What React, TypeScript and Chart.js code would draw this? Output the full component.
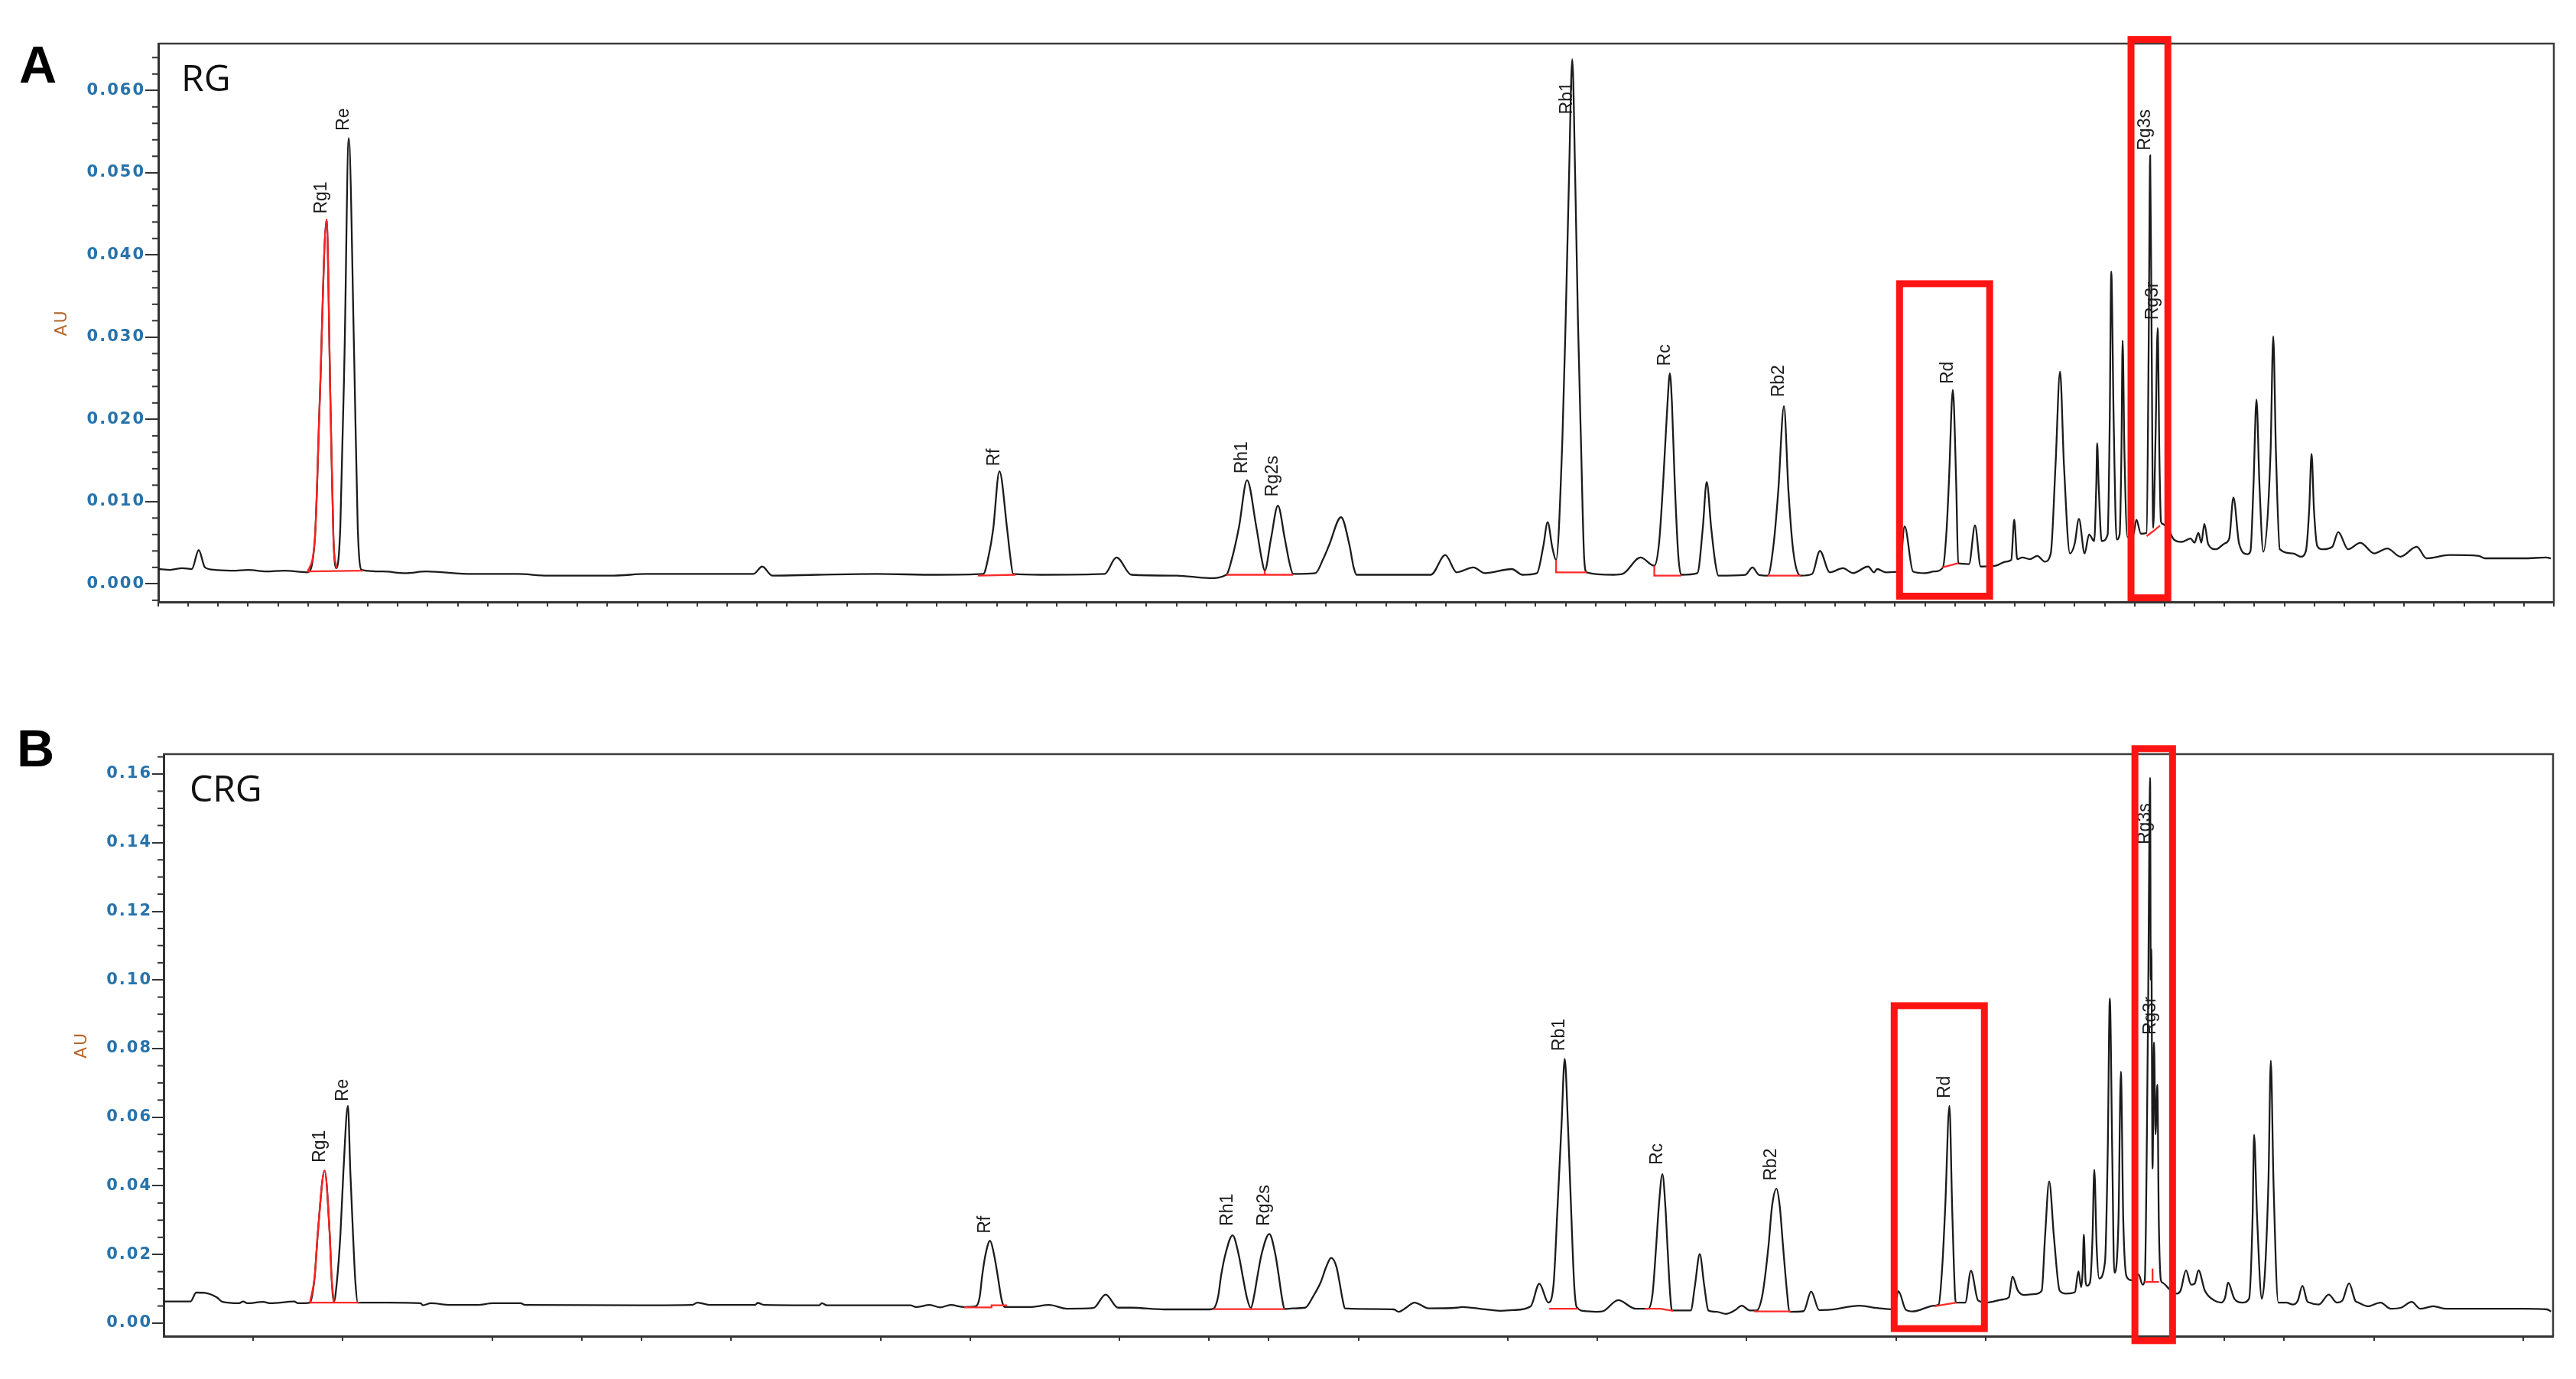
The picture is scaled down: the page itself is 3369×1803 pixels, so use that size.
import React, { useEffect, useRef } from "react";
import { Chart, registerables } from "chart.js";
Chart.register(...registerables);

// ---------------- Panel A (RG) ----------------
const traceA: [number, number][] = [
  [0, 0.0018], [0.4, 0.0017], [0.8, 0.0019], [1.12, 0.0018], [1.35, 0.0041], [1.56, 0.002],
  [1.9, 0.0017], [2.5, 0.0016], [3.0, 0.0017], [3.6, 0.0015], [4.2, 0.0016], [4.98, 0.0014],
  [5.23, 0.0055], [5.39, 0.022], [5.62, 0.0443], [5.75, 0.022], [5.85, 0.0055], [5.95, 0.0019],
  [6.08, 0.007], [6.22, 0.028], [6.36, 0.0542], [6.54, 0.028], [6.66, 0.007], [6.79, 0.0017],
  [7.5, 0.0015], [8.25, 0.0013], [8.94, 0.0015], [10.47, 0.0012], [12.0, 0.0012], [13.0, 0.001],
  [15.2, 0.001], [16.3, 0.0012], [18.0, 0.0012], [19.87, 0.0012], [20.17, 0.0021], [20.5, 0.001],
  [22.0, 0.0011], [24.0, 0.0012], [26.0, 0.0011], [27.55, 0.0012], [27.73, 0.0034], [27.88, 0.0066],
  [28.09, 0.0137], [28.35, 0.0066], [28.45, 0.0034], [28.55, 0.0012], [29.5, 0.0011], [31.6, 0.0012],
  [32.0, 0.0032], [32.5, 0.0011], [34.0, 0.001], [35.1, 0.0007], [35.67, 0.0011], [35.85, 0.003],
  [36.09, 0.0069], [36.36, 0.0126], [36.67, 0.0069], [36.85, 0.003], [36.95, 0.0016], [37.16, 0.0055],
  [37.39, 0.0095], [37.62, 0.0055], [37.78, 0.0025], [37.9, 0.0012], [38.64, 0.0013], [38.9, 0.003],
  [39.1, 0.0047], [39.5, 0.0081], [39.78, 0.0047], [39.92, 0.002], [40.02, 0.0011], [41.5, 0.0011],
  [42.5, 0.0011], [42.98, 0.0035], [43.36, 0.0014], [43.92, 0.002], [44.3, 0.0013], [45.2, 0.0018],
  [45.56, 0.0011], [46.04, 0.0013], [46.25, 0.0045], [46.4, 0.0075], [46.55, 0.0045], [46.68, 0.0029],
  [46.89, 0.0175], [47.0, 0.0321], [47.11, 0.0491], [47.22, 0.0638], [47.32, 0.0491], [47.41, 0.0321],
  [47.51, 0.0175], [47.62, 0.003], [47.7, 0.0014], [48.6, 0.0011], [48.9, 0.0012], [49.5, 0.0032],
  [49.96, 0.0022], [50.12, 0.005], [50.26, 0.0126], [50.4, 0.0219], [50.48, 0.0256], [50.55, 0.0219],
  [50.64, 0.0126], [50.76, 0.0035], [50.86, 0.0011], [51.4, 0.0013], [51.58, 0.0068], [51.71, 0.0124],
  [51.86, 0.0068], [52.0, 0.0025], [52.1, 0.001], [53.0, 0.0011], [53.24, 0.002], [53.45, 0.0011],
  [53.75, 0.001], [53.95, 0.005], [54.1, 0.0113], [54.29, 0.0216], [54.44, 0.0113], [54.6, 0.004],
  [54.85, 0.001], [55.23, 0.0012], [55.49, 0.004], [55.82, 0.0014], [56.26, 0.0019], [56.6, 0.0013],
  [57.1, 0.0021], [57.3, 0.0014], [57.4, 0.0018], [57.7, 0.0014], [58.15, 0.0015], [58.32, 0.007],
  [58.6, 0.0015], [58.99, 0.0013], [59.3, 0.0015], [59.6, 0.002], [59.72, 0.0065], [59.8, 0.0125],
  [59.93, 0.0236], [60.04, 0.0125], [60.11, 0.0025], [60.47, 0.0024], [60.67, 0.0071], [60.86, 0.0021],
  [61.36, 0.0022], [61.7, 0.0027], [61.88, 0.0029], [61.98, 0.0078], [62.08, 0.003], [62.25, 0.0032],
  [62.5, 0.003], [62.75, 0.0034], [63.0, 0.0027], [63.2, 0.0037], [63.36, 0.0145], [63.51, 0.0258],
  [63.64, 0.0145], [63.84, 0.0037], [64.0, 0.0049], [64.14, 0.0079], [64.33, 0.0037], [64.48, 0.006],
  [64.65, 0.0052], [64.72, 0.012], [64.75, 0.0171], [64.8, 0.012], [64.9, 0.0052], [65.1, 0.006],
  [65.17, 0.02], [65.22, 0.038], [65.3, 0.02], [65.4, 0.0054], [65.5, 0.006], [65.56, 0.016],
  [65.6, 0.0296], [65.66, 0.016], [65.76, 0.0057], [65.96, 0.006], [66.06, 0.0078], [66.21, 0.0061],
  [66.4, 0.0062], [66.47, 0.029], [66.52, 0.0521], [66.57, 0.029], [66.62, 0.0068], [66.7, 0.018],
  [66.77, 0.0311], [66.83, 0.015], [66.88, 0.0076], [66.93, 0.0073], [67.15, 0.0065], [67.31, 0.0054],
  [67.58, 0.0051], [67.87, 0.0055], [68.0, 0.005], [68.13, 0.0062], [68.23, 0.005], [68.33, 0.0073],
  [68.46, 0.0048], [68.72, 0.0042], [69.0, 0.0049], [69.16, 0.0055], [69.3, 0.0105], [69.49, 0.0049],
  [69.77, 0.0036], [69.87, 0.004], [69.97, 0.012], [70.07, 0.0224], [70.17, 0.012], [70.3, 0.0039],
  [70.54, 0.016], [70.63, 0.0301], [70.72, 0.016], [70.85, 0.0042], [71.29, 0.0037], [71.55, 0.0033],
  [71.72, 0.004], [71.83, 0.009], [71.91, 0.0158], [71.99, 0.009], [72.1, 0.0046], [72.27, 0.0042],
  [72.6, 0.0045], [72.8, 0.0063], [73.13, 0.0042], [73.54, 0.005], [74.0, 0.0037], [74.44, 0.0043],
  [74.88, 0.0033], [75.42, 0.0045], [75.75, 0.0031], [76.51, 0.0035], [77.5, 0.0034], [77.7, 0.0031],
  [78.98, 0.0031], [79.75, 0.0032], [79.9, 0.0031],
];
const rg1RangeA: [number, number] = [4.98, 5.95];
const baselinesA: [number, number][][] = [
  [[4.98, 0.0015], [6.84, 0.0016]],
  [[27.37, 0.001], [28.63, 0.0011]],
  [[35.67, 0.0011], [37.9, 0.0011]],
  [[36.95, 0.0011], [36.95, 0.0016]],
  [[46.68, 0.0029], [46.68, 0.0014], [47.7, 0.0014]],
  [[49.96, 0.0022], [49.96, 0.001], [50.86, 0.001]],
  [[53.75, 0.001], [54.85, 0.001]],
  [[59.58, 0.002], [60.11, 0.0025]],
  [[66.4, 0.0058], [66.62, 0.0064], [66.85, 0.0071]],
];
const peakLabelsA: [string, number, number][] = [
  ["Rg1", 5.62, 0.045], ["Re", 6.36, 0.0551], ["Rf", 28.09, 0.0143], ["Rh1", 36.36, 0.0134],
  ["Rg2s", 37.39, 0.0106], ["Rb1", 47.22, 0.0571], ["Rc", 50.48, 0.0265], ["Rb2", 54.29, 0.0227],
  ["Rd", 59.93, 0.0243], ["Rg3s", 66.52, 0.0527], ["Rg3r", 66.77, 0.0321],
];
const boxesA: [number, number, number, number][] = [
  [58.15, 61.16, -0.0015, 0.0365],
  [65.88, 67.11, -0.0017, 0.0662],
];
const yMajorA = [0, 0.01, 0.02, 0.03, 0.04, 0.05, 0.06];
const yMinorA = [
  -0.002, 0.002, 0.004, 0.006, 0.008, 0.012, 0.014, 0.016, 0.018, 0.022, 0.024, 0.026, 0.028,
  0.032, 0.034, 0.036, 0.038, 0.042, 0.044, 0.046, 0.048, 0.052, 0.054, 0.056, 0.058, 0.062, 0.064,
];

// ---------------- Panel B (CRG) ----------------
const traceB: [number, number][] = [
  [0, 0.0063], [0.9, 0.0063], [1.09, 0.0089], [1.38, 0.0088], [1.78, 0.0075], [1.97, 0.0062],
  [2.53, 0.0058], [2.66, 0.0063], [2.8, 0.0058], [3.33, 0.0062], [3.58, 0.0058], [4.37, 0.0063],
  [4.5, 0.0058], [4.9, 0.006], [5.06, 0.0138], [5.16, 0.026], [5.39, 0.0444], [5.56, 0.026],
  [5.62, 0.0138], [5.7, 0.0062], [5.8, 0.012], [5.92, 0.026], [6.02, 0.0443], [6.17, 0.0633],
  [6.25, 0.0443], [6.34, 0.026], [6.42, 0.012], [6.5, 0.006], [7.5, 0.006], [8.6, 0.0058],
  [8.68, 0.0052], [8.95, 0.0058], [9.6, 0.0053], [10.5, 0.0053], [11.03, 0.0058], [11.95, 0.0058],
  [12.1, 0.0053], [16.0, 0.0052], [17.7, 0.0053], [17.87, 0.006], [18.3, 0.0053], [19.8, 0.0053],
  [19.89, 0.0059], [20.1, 0.0053], [21.95, 0.0052], [22.04, 0.0058], [22.2, 0.0052], [25.0, 0.0052],
  [25.19, 0.0047], [25.65, 0.0053], [26.0, 0.0046], [26.35, 0.0053], [26.8, 0.0047], [27.19, 0.0049],
  [27.32, 0.0075], [27.41, 0.0141], [27.52, 0.0201], [27.67, 0.024], [27.8, 0.0201], [27.92, 0.0141],
  [28.06, 0.0067], [28.16, 0.0047], [29.0, 0.0047], [29.65, 0.0053], [30.24, 0.0042], [31.13, 0.0044],
  [31.54, 0.0083], [31.95, 0.0045], [32.4, 0.0045], [33.5, 0.004], [35.03, 0.004], [35.15, 0.0042],
  [35.3, 0.0075], [35.41, 0.0141], [35.55, 0.0201], [35.79, 0.0256], [35.99, 0.0201], [36.12, 0.0141],
  [36.28, 0.007], [36.4, 0.0044], [36.5, 0.0075], [36.63, 0.0141], [36.76, 0.0201], [37.02, 0.026],
  [37.22, 0.0201], [37.33, 0.0141], [37.45, 0.007], [37.53, 0.0041], [37.8, 0.0043], [38.22, 0.0045],
  [38.5, 0.008], [38.74, 0.0119], [38.92, 0.0163], [39.09, 0.019], [39.27, 0.0163], [39.37, 0.0119],
  [39.47, 0.007], [39.55, 0.0043], [40.7, 0.0041], [41.19, 0.004], [41.35, 0.0033], [41.6, 0.0045],
  [41.88, 0.006], [42.35, 0.0043], [43.3, 0.0045], [43.48, 0.0047], [44.16, 0.0041], [44.74, 0.0036],
  [45.19, 0.0038], [45.77, 0.0049], [46.06, 0.0115], [46.36, 0.006], [46.53, 0.0107], [46.67, 0.034],
  [46.8, 0.0573], [46.91, 0.077], [47.02, 0.0573], [47.12, 0.034], [47.23, 0.0107], [47.31, 0.0047],
  [47.6, 0.0035], [48.0, 0.0033], [48.2, 0.0035], [48.7, 0.0067], [49.28, 0.0042], [49.7, 0.0042],
  [49.85, 0.0085], [49.97, 0.0223], [50.06, 0.034], [50.18, 0.0434], [50.28, 0.034], [50.35, 0.0223],
  [50.44, 0.0083], [50.5, 0.0037], [51.13, 0.0037], [51.27, 0.011], [51.43, 0.0201], [51.58, 0.011],
  [51.72, 0.0037], [52.0, 0.0033], [52.3, 0.0027], [52.6, 0.0037], [52.84, 0.0051], [53.1, 0.0037],
  [53.33, 0.0037], [53.53, 0.0083], [53.73, 0.0223], [53.85, 0.034], [54.0, 0.0392], [54.11, 0.034],
  [54.22, 0.0223], [54.36, 0.0083], [54.43, 0.0033], [54.91, 0.0035], [55.16, 0.0092], [55.43, 0.0038],
  [55.8, 0.0039], [56.78, 0.0051], [57.37, 0.0044], [57.94, 0.004], [58.08, 0.0093], [58.33, 0.0039],
  [58.55, 0.0034], [59.29, 0.0051], [59.43, 0.0054], [59.55, 0.0165], [59.65, 0.034], [59.79, 0.0633],
  [59.88, 0.034], [59.94, 0.0165], [60.0, 0.006], [60.32, 0.006], [60.51, 0.0153], [60.75, 0.0066],
  [61.05, 0.006], [61.58, 0.0069], [61.78, 0.0075], [61.9, 0.0136], [62.08, 0.0095], [62.3, 0.0082],
  [62.67, 0.0085], [62.88, 0.0095], [62.99, 0.025], [63.13, 0.0413], [63.29, 0.025], [63.48, 0.0095],
  [63.7, 0.0086], [63.99, 0.009], [64.11, 0.0151], [64.2, 0.0105], [64.25, 0.015], [64.29, 0.0258],
  [64.35, 0.012], [64.4, 0.0109], [64.5, 0.012], [64.58, 0.025], [64.64, 0.0447], [64.72, 0.022],
  [64.8, 0.013], [65.0, 0.018], [65.09, 0.05], [65.16, 0.0946], [65.24, 0.05], [65.31, 0.0147],
  [65.45, 0.03], [65.53, 0.0733], [65.61, 0.03], [65.72, 0.0136], [65.9, 0.0125], [66.12, 0.0142],
  [66.26, 0.0112], [66.33, 0.0125], [66.44, 0.09], [66.51, 0.1589], [66.53, 0.1], [66.55, 0.109],
  [66.59, 0.045], [66.64, 0.0818], [66.69, 0.055], [66.75, 0.0695], [66.8, 0.03], [66.87, 0.0125],
  [66.92, 0.0118], [67.19, 0.0096], [67.41, 0.0086], [67.53, 0.0095], [67.71, 0.0154], [67.88, 0.0112],
  [68.0, 0.0115], [68.13, 0.0154], [68.34, 0.0095], [68.66, 0.0066], [68.89, 0.006], [69.02, 0.0075],
  [69.12, 0.0118], [69.33, 0.0071], [69.6, 0.006], [69.82, 0.0071], [69.94, 0.031], [69.99, 0.0549],
  [70.09, 0.031], [70.25, 0.0071], [70.47, 0.041], [70.55, 0.0765], [70.64, 0.041], [70.8, 0.006],
  [71.07, 0.006], [71.29, 0.0054], [71.45, 0.0065], [71.61, 0.0109], [71.76, 0.0065], [71.84, 0.006],
  [72.16, 0.0054], [72.49, 0.0083], [72.76, 0.006], [72.94, 0.0065], [73.17, 0.0116], [73.38, 0.0065],
  [73.48, 0.006], [73.8, 0.0049], [74.22, 0.006], [74.57, 0.0042], [74.91, 0.0045], [75.27, 0.0062],
  [75.55, 0.0042], [75.99, 0.0049], [76.42, 0.0042], [77.73, 0.0042], [79.0, 0.0042], [79.8, 0.004],
  [79.93, 0.0034],
];
const rg1RangeB: [number, number] = [4.9, 5.7];
const baselinesB: [number, number][][] = [
  [[4.89, 0.006], [6.53, 0.006]],
  [[26.8, 0.0046], [27.7, 0.0046], [27.72, 0.0052], [28.24, 0.0052]],
  [[35.15, 0.0041], [37.53, 0.0041]],
  [[46.39, 0.0042], [47.36, 0.0042]],
  [[49.59, 0.0042], [50.1, 0.0042], [50.54, 0.0036]],
  [[53.25, 0.0034], [54.47, 0.0034]],
  [[59.29, 0.0049], [60.02, 0.006]],
  [[66.32, 0.012], [66.81, 0.012]],
  [[66.59, 0.012], [66.59, 0.0159]],
];
const peakLabelsB: [string, number, number][] = [
  ["Rg1", 5.39, 0.0468], ["Re", 6.17, 0.0646], ["Rf", 27.67, 0.0261], ["Rh1", 35.79, 0.0283],
  ["Rg2s", 37.02, 0.0283], ["Rb1", 46.91, 0.0793], ["Rc", 50.18, 0.0461], ["Rb2", 54.0, 0.0415],
  ["Rd", 59.79, 0.0655], ["Rg3s", 66.51, 0.1395], ["Rg3r", 66.69, 0.084],
];
const boxesB: [number, number, number, number][] = [
  [57.94, 60.96, -0.0016, 0.0925],
  [66.0, 67.26, -0.0051, 0.1674],
];
const yMajorB = [0, 0.02, 0.04, 0.06, 0.08, 0.1, 0.12, 0.14, 0.16];
const yMinorB = [
  0.005, 0.01, 0.015, 0.025, 0.03, 0.035, 0.045, 0.05, 0.055, 0.065, 0.07, 0.075, 0.085, 0.09,
  0.095, 0.105, 0.11, 0.115, 0.125, 0.13, 0.135, 0.145, 0.15, 0.155, 0.165,
];
const xTicksB = [3, 6, 11, 14, 16, 19, 24, 27, 32, 35, 37, 40, 45, 48, 53, 58, 61, 69, 71, 74, 79];

// ---------------- drawing helpers ----------------
const extrasPlugin = {
  id: "extras",
  beforeDraw(chart: any) {
    (chart.ctx as any).letterSpacing = "2px";
  },
  beforeDatasetsDraw(chart: any) {
    (chart.ctx as any).letterSpacing = "0px";
  },
  afterDatasetsDraw(chart: any, _a: any, opts: any) {
    const { ctx } = chart;
    const xs = chart.scales.x;
    const ys = chart.scales.y;
    ctx.save();
    ctx.letterSpacing = "0px";
    ctx.fillStyle = "#1c1c1c";
    ctx.font = '23px "Liberation Sans", Arial, sans-serif';
    for (const [name, t, v] of opts.labels) {
      const x = xs.getPixelForValue(t);
      const y = ys.getPixelForValue(v);
      ctx.save();
      ctx.translate(x, y);
      ctx.rotate(-Math.PI / 2);
      ctx.textAlign = "left";
      ctx.textBaseline = "alphabetic";
      ctx.fillText(name, 0, 0);
      ctx.restore();
    }
    ctx.restore();
  },
  afterDraw(chart: any, _a: any, opts: any) {
    const { ctx, chartArea: ca } = chart;
    const xs = chart.scales.x;
    const ys = chart.scales.y;
    ctx.save();
    // top and right frame
    ctx.strokeStyle = "#3c3c3c";
    ctx.lineWidth = 2.5;
    ctx.beginPath();
    ctx.moveTo(ca.left, ca.top);
    ctx.lineTo(ca.right, ca.top);
    ctx.lineTo(ca.right, ca.bottom);
    ctx.stroke();
    // minor y ticks
    ctx.strokeStyle = "#333";
    ctx.lineWidth = 2;
    for (const v of opts.minor) {
      const y = ys.getPixelForValue(v);
      ctx.beginPath();
      ctx.moveTo(ca.left - opts.minorLen, y);
      ctx.lineTo(ca.left, y);
      ctx.stroke();
    }
    // red highlight boxes
    ctx.strokeStyle = "#ff1414";
    ctx.lineWidth = 9;
    for (const [t0, t1, v0, v1] of opts.boxes) {
      const x0 = xs.getPixelForValue(t0);
      const x1 = xs.getPixelForValue(t1);
      const y0 = ys.getPixelForValue(v1);
      const y1 = ys.getPixelForValue(v0);
      ctx.strokeRect(x0, y0, x1 - x0, y1 - y0);
    }
    ctx.restore();
  },
};

type PanelCfg = {
  trace: [number, number][];
  rg1: [number, number];
  baselines: [number, number][][];
  labels: [string, number, number][];
  boxes: [number, number, number, number][];
  yMajor: number[];
  yMinor: number[];
  yMin: number;
  yMax: number;
  decimals: number;
  xTicks: number[] | null;
  yAxisW: number;
  xAxisH: number;
  padTop: number;
  padRight: number;
  titlePad: number;
  majorLen: number;
};

function makeChart(canvas: HTMLCanvasElement, p: PanelCfg) {
  const toXY = (arr: [number, number][]) => arr.map(([x, y]) => ({ x, y }));
  const datasets: any[] = [];
  datasets.push({
    data: toXY(p.trace.filter(([t]) => t >= p.rg1[0] && t <= p.rg1[1])),
    borderColor: "#ff2020",
    borderWidth: 2.3,
    pointRadius: 0,
    cubicInterpolationMode: "monotone",
    order: 0,
  });
  for (const b of p.baselines) {
    datasets.push({
      data: toXY(b),
      borderColor: "#ff2a2a",
      borderWidth: 2.3,
      pointRadius: 0,
      tension: 0,
      order: 1,
    });
  }
  datasets.push({
    data: toXY(p.trace),
    borderColor: "#1b1b1b",
    borderWidth: 2.3,
    pointRadius: 0,
    cubicInterpolationMode: "monotone",
    order: 2,
  });

  return new Chart(canvas, {
    type: "line",
    data: { datasets },
    options: {
      animation: false,
      responsive: false,
      devicePixelRatio: 1,
      events: [],
      layout: { padding: { top: p.padTop, right: p.padRight, left: 0, bottom: 0 } },
      plugins: {
        legend: { display: false },
        tooltip: { enabled: false },
        extras: { labels: p.labels, boxes: p.boxes, minor: p.yMinor, minorLen: 8 },
      } as any,
      scales: {
        x: {
          type: "linear",
          min: 0,
          max: 80,
          ticks: { display: false, stepSize: 1, maxTicksLimit: 200 },
          afterBuildTicks: (s: any) => {
            if (p.xTicks) s.ticks = p.xTicks.map((v) => ({ value: v }));
          },
          grid: { drawOnChartArea: false, drawTicks: true, tickLength: 6, color: "#333", lineWidth: 2 },
          border: { display: true, color: "#333", width: 3 },
          afterFit: (s: any) => {
            s.height = p.xAxisH;
          },
        },
        y: {
          type: "linear",
          min: p.yMin,
          max: p.yMax,
          afterBuildTicks: (s: any) => {
            s.ticks = p.yMajor.map((v) => ({ value: v }));
          },
          ticks: {
            callback: (v: any) => Number(v).toFixed(p.decimals),
            color: "#2873ab",
            font: { family: "DejaVu Sans", weight: "bold", size: 21 },
            padding: 0,
            autoSkip: false,
          },
          grid: { drawOnChartArea: false, drawTicks: true, tickLength: p.majorLen, color: "#333", lineWidth: 2 },
          border: { display: true, color: "#333", width: 3 },
          title: {
            display: true,
            text: "AU",
            color: "#b5652a",
            font: { family: "DejaVu Sans", size: 22 },
            padding: { top: p.titlePad, bottom: 0 },
          },
          afterFit: (s: any) => {
            s.width = p.yAxisW;
          },
        },
      },
    } as any,
    plugins: [extrasPlugin as any],
  });
}

const panelA: PanelCfg = {
  trace: traceA, rg1: rg1RangeA, baselines: baselinesA, labels: peakLabelsA, boxes: boxesA,
  yMajor: yMajorA, yMinor: yMinorA, yMin: -0.0022, yMax: 0.0657, decimals: 3, xTicks: null,
  yAxisW: 207, xAxisH: 93, padTop: 57, padRight: 29, titlePad: 68, majorLen: 17,
};
const panelB: PanelCfg = {
  trace: traceB, rg1: rg1RangeB, baselines: baselinesB, labels: peakLabelsB, boxes: boxesB,
  yMajor: yMajorB, yMinor: yMinorB, yMin: -0.0038, yMax: 0.1658, decimals: 2, xTicks: xTicksB,
  yAxisW: 214, xAxisH: 56, padTop: 106, padRight: 30, titlePad: 94, majorLen: 15,
};

const letterStyle: React.CSSProperties = {
  position: "absolute",
  fontFamily: '"Liberation Sans", Arial, sans-serif',
  fontWeight: 700,
  fontSize: 68,
  lineHeight: "68px",
  color: "#000",
  margin: 0,
};
const nameStyle: React.CSSProperties = {
  position: "absolute",
  fontFamily: '"Open Sans", sans-serif',
  fontWeight: 400,
  fontSize: 48,
  lineHeight: "48px",
  color: "#111",
  margin: 0,
};

export default function App() {
  const refA = useRef<HTMLCanvasElement>(null);
  const refB = useRef<HTMLCanvasElement>(null);
  useEffect(() => {
    const a = makeChart(refA.current!, panelA);
    const b = makeChart(refB.current!, panelB);
    return () => {
      a.destroy();
      b.destroy();
    };
  }, []);
  return (
    <div style={{ position: "fixed", left: 0, top: 0, width: 3369, height: 1803, background: "#fff", overflow: "hidden" }}>
      <canvas ref={refA} width={3369} height={880} style={{ position: "absolute", left: 0, top: 0, width: 3369, height: 880 }} />
      <canvas ref={refB} width={3369} height={923} style={{ position: "absolute", left: 0, top: 880, width: 3369, height: 923 }} />
      <div style={{ ...letterStyle, left: 25, top: 50 }}>A</div>
      <div style={{ ...nameStyle, left: 237, top: 77 }}>RG</div>
      <div style={{ ...letterStyle, left: 22, top: 944 }}>B</div>
      <div style={{ ...nameStyle, left: 248, top: 1006 }}>CRG</div>
    </div>
  );
}
